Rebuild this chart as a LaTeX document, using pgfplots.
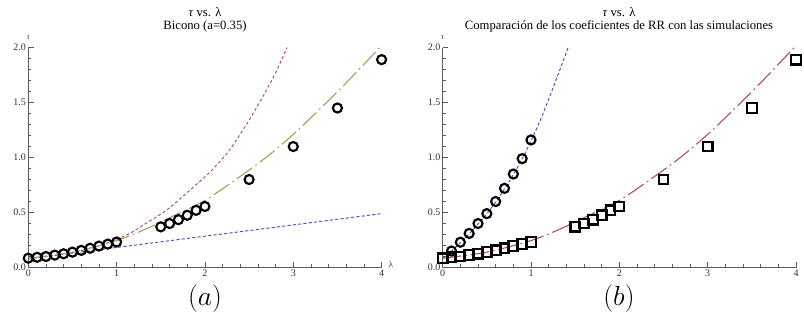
\documentclass[border=0pt]{standalone}
\usepackage{pgfplots}
\pgfplotsset{compat=1.18}
\usepackage{fontspec}
\setmainfont{Liberation Serif}
\definecolor{mblue}{RGB}{80,80,180}
\definecolor{mmag}{RGB}{170,70,130}
\definecolor{molive}{RGB}{175,150,85}
\definecolor{axgray}{RGB}{90,90,90}
\pgfplotsset{mystyle/.style={
  scale only axis, width=265pt, height=165pt,
  xmin=0, xmax=4, ymin=0, ymax=2,
  axis x line*=bottom, axis y line*=left,
  axis line style={draw=axgray, line width=0.6pt, -},
  xtick={0,1,2,3,4}, minor x tick num=4,
  ytick={0,0.5,1,1.5,2}, minor y tick num=4,
  tick align=inside,
  major tick length=4pt, minor tick length=2.3pt,
  every tick/.style={axgray, line width=0.5pt},
  /pgf/number format/assume math mode=true,
  yticklabel style={/pgf/number format/fixed, /pgf/number format/fixed zerofill, /pgf/number format/precision=1, font=\fontsize{7.5}{8}\selectfont, text=black!80, inner sep=1.5pt},
  xticklabel style={font=\fontsize{7.5}{8}\selectfont, text=black!80, inner sep=1.5pt},
  clip mode=individual,
  circ/.style={only marks, mark=o, mark size=3.4pt, mark options={line width=1.6pt, draw=black}},
  sq/.style={only marks, mark=square, mark size=3.6pt, mark options={line width=1.7pt, draw=black}},
}}
\pgfplotstableread{
x y
0 0.085
0.1 0.093
0.2 0.100
0.3 0.113
0.4 0.125
0.5 0.140
0.6 0.156
0.7 0.175
0.8 0.195
0.9 0.213
1.0 0.232
1.5 0.370
1.6 0.400
1.7 0.435
1.8 0.475
1.9 0.520
2.0 0.555
2.5 0.800
3.0 1.100
3.5 1.450
4.0 1.890
}\simdata
\pgfplotstableread{
x y
0.1 0.15
0.2 0.23
0.3 0.31
0.4 0.40
0.5 0.49
0.6 0.60
0.7 0.72
0.8 0.85
0.9 0.99
1.0 1.16
}\circdata
\pgfplotstableread{
x y
0 0.085
0.5 0.14
1.0 0.245
1.33 0.35
1.67 0.48
2.0 0.61
2.35 0.80
2.69 1.00
3.0 1.21
3.3 1.44
3.6 1.68
3.98 2.0
}\rrcurve
\pgfplotstableread{
x y
0 0.085
0.25 0.105
0.5 0.135
0.75 0.185
1.0 0.255
1.17 0.32
1.34 0.405
1.57 0.525
1.79 0.675
2.06 0.87
2.27 1.06
2.47 1.30
2.66 1.56
2.8 1.77
2.93 2.0
}\magcurve
\pgfplotstableread{
x y
0 0.08
0.1 0.15
0.2 0.225
0.3 0.305
0.4 0.395
0.5 0.49
0.6 0.595
0.7 0.715
0.8 0.845
0.9 0.99
1.0 1.15
1.1 1.33
1.2 1.53
1.3 1.74
1.42 2.0
}\bluecurve
\begin{document}
\begin{tikzpicture}
\useasboundingbox (0,0) rectangle (603pt,243.75pt);
% titles
\node[font=\fontsize{9.5}{10}\selectfont] at (153.75pt,234.5pt) {\textit{τ} vs. λ};
\node[font=\fontsize{9.5}{10}\selectfont] at (153.75pt,224pt) {Bicono (a=0.35)};
\node[font=\fontsize{9.5}{10}\selectfont] at (464.25pt,234.5pt) {\textit{τ} vs. λ};
\node[font=\fontsize{9.5}{10}\selectfont] at (464.25pt,224pt) {Comparación de los coeficientes de RR con las simulaciones};
\node[font=\fontsize{22}{24}\selectfont] at (153.75pt,20pt) {$(a)$};
\node[font=\fontsize{22}{24}\selectfont] at (464.25pt,20pt) {$(b)$};
% left
\begin{axis}[mystyle, at={(21.2pt,43.1pt)}, anchor=south west]
\addplot[mblue, line width=0.7pt, dash pattern=on 2.4pt off 1.6pt] coordinates {(0,0.08) (4,0.49)};
\addplot[mmag, line width=0.7pt, dash pattern=on 2.2pt off 1.8pt, smooth] table {\magcurve};
\addplot[molive, line width=0.8pt, dash pattern=on 14pt off 3pt on 1.2pt off 3pt, smooth] table {\rrcurve};
\addplot[circ] table {\simdata};
\node[font=\fontsize{6}{6}\selectfont\itshape, text=black!80] at (rel axis cs:0,1) [yshift=7pt] {τ};
\node[font=\fontsize{6.5}{6}\selectfont, text=black!80] at (rel axis cs:1,0) [xshift=7pt, yshift=2pt] {λ};
\end{axis}
% right
\begin{axis}[mystyle, at={(332pt,43.1pt)}, anchor=south west]
\addplot[mblue, line width=0.7pt, dash pattern=on 2.4pt off 1.6pt, smooth] table {\bluecurve};
\addplot[mmag, line width=0.8pt, dash pattern=on 14pt off 3pt on 1.2pt off 3pt, smooth] table {\rrcurve};
\addplot[circ] table {\circdata};
\addplot[sq] table {\simdata};
\node[font=\fontsize{6}{6}\selectfont\itshape, text=black!80] at (rel axis cs:0,1) [yshift=7pt] {τ};
\end{axis}
\end{tikzpicture}
\end{document}
